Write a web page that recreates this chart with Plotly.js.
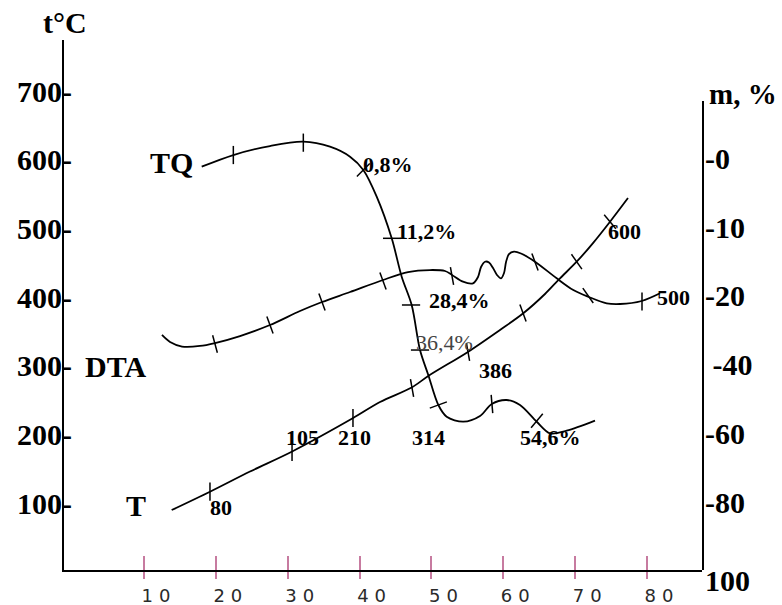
<!DOCTYPE html>
<html>
<head>
<meta charset="utf-8">
<script src="https://cdn.plot.ly/plotly-3.0.1.min.js"></script>
<style>
  html, body { margin: 0; padding: 0; background: #fff; }
  .xtick text { letter-spacing: 6px; }
</style>
</head>
<body>
<div id="chart" style="width:782px;height:605px;"></div>
<script>
// ---- data (x: heating-scale units, y: temperature °C) ----
const xTicks = [10, 20, 30, 40, 50, 60, 70, 80];
const xTickText = ['10', '20', '30', '40', '50', '60', '70', '80'];
const tempTicks = [100, 200, 300, 400, 500, 600, 700];
const tempTickText = ['100-', '200-', '300-', '400-', '500-', '600-', '700-'];
const massTickPos = [600, 500, 400, 300, 200, 100];
const massTickText = ['-0', '-10', '-20', '\u00a0-40', '-60', '-80'];

// TQ curve (mass loss)
const tqX = [18.03, 22.43, 27.53, 32.17, 35.88, 38.67, 40.52, 42.38, 44.47, 45.86, 47.25, 48.41, 49.56, 50.96, 52.12, 54.43, 56.76, 58.39, 60.47, 62.32, 64.65, 66.5, 68.82, 72.76];
const tqY = [595.6, 612.6, 625.7, 632.0, 624.7, 610.1, 590.8, 551.9, 491.3, 435.4, 394.2, 328.6, 292.2, 248.5, 231.5, 224.2, 232.5, 250.0, 255.8, 248.5, 224.2, 207.3, 211.1, 225.7];
const tqTickX = [22.43, 32.17, 40.52, 44.52, 47.16, 48.41, 50.96, 58.42, 64.68];
const tqTickY = [612.6, 630.6, 590.8, 491.3, 394.2, 328.6, 248.5, 250.0, 225.7];

// DTA curve
const dtaX = [12.5, 13.62, 15.29, 17.79, 19.88, 23.36, 27.53, 31.71, 34.77, 38.67, 43.26, 46.74, 49.8, 51.89, 52.86, 54.39, 55.78, 56.48, 56.9, 57.45, 58.01, 58.57, 59.12, 59.68, 60.1, 60.38, 60.79, 61.49, 62.46, 64.41, 67.43, 69.74, 71.83, 74.39, 76.24, 79.26, 81.81];
const dtaY = [350.5, 340.3, 333.7, 334.5, 338.8, 349.0, 365.0, 385.4, 398.5, 413.1, 430.6, 442.2, 445.1, 443.7, 437.9, 428.1, 425.8, 434.9, 449.5, 457.2, 456.1, 448.0, 437.9, 433.0, 440.8, 456.8, 468.4, 471.8, 469.2, 457.2, 433.0, 416.0, 406.2, 396.6, 395.6, 400.0, 411.2];
const dtaTickX = [19.88, 27.53, 34.77, 43.26, 52.86, 64.41, 71.79, 79.3];
const dtaTickY = [337.4, 365.0, 398.5, 429.1, 436.4, 456.8, 408.0, 399.3];

// T curve (temperature)
const tX = [13.85, 19.18, 24.75, 30.55, 39.04, 42.84, 47.25, 49.56, 55.13, 59.54, 62.78, 65.8, 67.89, 70.21, 72.48, 74.85, 77.35];
const tY = [95.6, 122.3, 151.7, 180.5, 229.2, 252.9, 274.0, 290.8, 326.2, 357.8, 382.1, 410.2, 433.0, 457.2, 484.4, 515.5, 550.0];
const tTickX = [19.18, 30.6, 39.08, 47.3, 55.09, 62.74, 70.21, 74.85];
const tTickY = [122.3, 180.1, 229.6, 273.3, 325.7, 382.5, 457.2, 515.5];

// point labels
const labelText = ['0,8%', '11,2%', '28,4%', '386', '314', '54,6%', '600', '500', '105', '210', '80'];
const labelX = [43.95, 49.38, 53.97, 58.98, 49.52, 66.5, 76.8, 83.75, 31.99, 39.36, 20.72];
const labelY = [599.5, 500.5, 401.4, 299.5, 200.5, 200.5, 500.5, 404.4, 200.5, 200.5, 100.0];
const curveNames = ['TQ', 'DTA', 'T'];
const curveNameX = [13.76, 6.10, 8.89];
const curveNameY = [602.4, 303.9, 102.9];

// ---- styles ----
const SERIF = 'Liberation Serif, Times New Roman, serif';
const lineStyle = {color: 'black', width: 1.8, shape: 'spline', smoothing: 0.9};
function tickMarks(x, y, angles) {
  return {
    x: x, y: y, type: 'scatter', mode: 'markers', hoverinfo: 'skip',
    marker: {symbol: 'line-ns', size: 13, angle: angles, color: 'black', line: {color: 'black', width: 1.5}}
  };
}

const traces = [
  {x: tqX, y: tqY, type: 'scatter', mode: 'lines', line: lineStyle, hoverinfo: 'skip'},
  {x: dtaX, y: dtaY, type: 'scatter', mode: 'lines', line: lineStyle, hoverinfo: 'skip'},
  {x: tX, y: tY, type: 'scatter', mode: 'lines', line: lineStyle, hoverinfo: 'skip'},
  tickMarks(tqTickX, tqTickY, [0, 0, 45, 90, 90, 90, 70, -5, 40]),
  tickMarks(dtaTickX, dtaTickY, [-15, -20, -20, -20, -10, -20, -35, 0]),
  tickMarks(tTickX, tTickY, [0, 0, 0, -10, -10, -20, -35, -40]),
  {x: [], y: [], xaxis: 'x2', yaxis: 'y', type: 'scatter', mode: 'markers', hoverinfo: 'skip'},
  {x: [], y: [], xaxis: 'x', yaxis: 'y2', type: 'scatter', mode: 'markers', hoverinfo: 'skip'}
];

const annotations = [];
labelText.forEach((t, i) => annotations.push({
  x: labelX[i], y: labelY[i], xref: 'x', yref: 'y', text: t, showarrow: false,
  xanchor: 'center', yanchor: 'middle',
  font: {family: SERIF, size: 22, color: 'black', weight: 'bold'}
}));
annotations.push({
  x: 51.75, y: 340.3, xref: 'x', yref: 'y', text: '36,4%', showarrow: false,
  xanchor: 'center', yanchor: 'middle',
  font: {family: SERIF, size: 22, color: '#444'}
});
curveNames.forEach((t, i) => annotations.push({
  x: curveNameX[i], y: curveNameY[i], xref: 'x', yref: 'y', text: t, showarrow: false,
  xanchor: 'center', yanchor: 'middle',
  font: {family: SERIF, size: 30, color: 'black', weight: 'bold'}
}));
const boldBig = {family: SERIF, size: 30, color: 'black', weight: 'bold'};
annotations.push({x: 0.0008, y: 1.033, xref: 'paper', yref: 'paper', text: 't°C', showarrow: false,
  xanchor: 'center', yanchor: 'middle', font: boldBig});
annotations.push({x: 1.0635, y: 0.898, xref: 'paper', yref: 'paper', text: 'm, %', showarrow: false,
  xanchor: 'center', yanchor: 'middle', font: {family: SERIF, size: 29, color: 'black', weight: 'bold'}});
annotations.push({x: 1.04, y: -0.019, xref: 'paper', yref: 'paper', text: '100', showarrow: false,
  xanchor: 'center', yanchor: 'middle', font: boldBig});

const xRange = [-1.133, 87.65];
const layout = {
  width: 782, height: 605,
  margin: {l: 64, r: 80, t: 40, b: 35, pad: 0},
  paper_bgcolor: 'white', plot_bgcolor: 'rgba(0,0,0,0)',
  showlegend: false,
  xaxis: {
    range: xRange, anchor: 'y', showgrid: false, zeroline: false,
    showline: true, linecolor: 'black', linewidth: 2,
    tickmode: 'array', tickvals: xTicks, ticktext: xTickText,
    ticks: 'outside', ticklen: 7, tickwidth: 2, tickcolor: '#c77ba0',
    tickfont: {family: 'DejaVu Sans', size: 18, color: '#2a2a2a'},
    ticklabelshift: 15, ticklabelstandoff: 1, automargin: false
  },
  xaxis2: {
    range: xRange, overlaying: 'x', anchor: 'y', side: 'bottom',
    showgrid: false, zeroline: false, showline: false,
    tickmode: 'array', tickvals: xTicks, showticklabels: false,
    ticks: 'inside', ticklen: 14, tickwidth: 2, tickcolor: '#c77ba0'
  },
  yaxis: {
    range: [8.26, 780.1], anchor: 'x', showgrid: false, zeroline: false,
    showline: true, linecolor: 'black', linewidth: 2,
    tickmode: 'array', tickvals: tempTicks, ticktext: tempTickText, ticks: '',
    ticklabelstandoff: -16, ticklabelshift: -4,
    tickfont: boldBig,
    automargin: false
  },
  yaxis2: {
    domain: [0, 0.8849], range: [8.26, 691.2], anchor: 'x', side: 'right',
    showgrid: false, zeroline: false,
    showline: true, linecolor: 'black', linewidth: 2,
    tickmode: 'array', tickvals: massTickPos, ticktext: massTickText, ticks: '',
    ticklabelstandoff: -5, ticklabelshift: -5,
    tickfont: boldBig,
    automargin: false
  },
  annotations: annotations
};

Plotly.newPlot('chart', traces, layout, {staticPlot: true, displayModeBar: false});
</script>
</body>
</html>
